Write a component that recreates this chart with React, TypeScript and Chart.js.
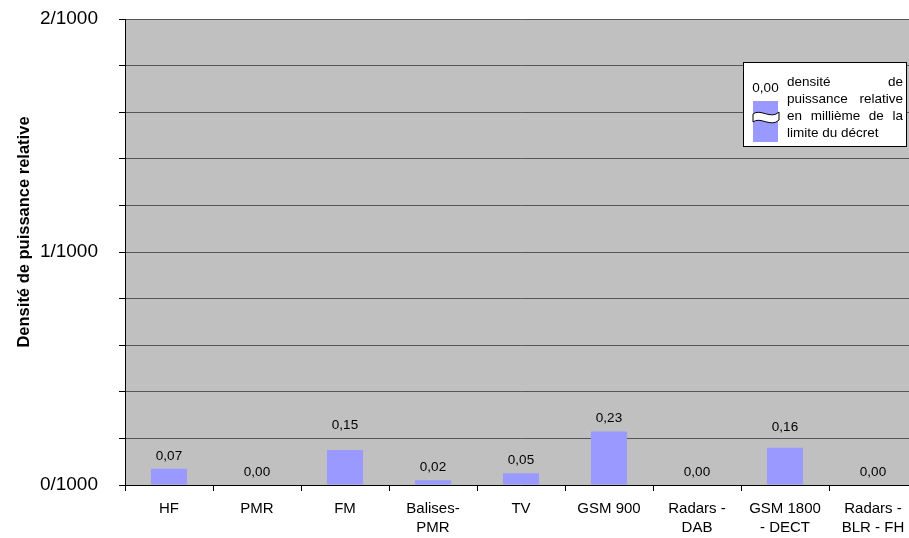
import React, { useEffect, useRef } from "react";
import { Chart, registerables } from "chart.js";

Chart.register(...registerables);

const categories: (string | string[])[] = [
  "HF",
  "PMR",
  "FM",
  ["Balises-", "PMR"],
  "TV",
  "GSM 900",
  ["Radars -", "DAB"],
  ["GSM 1800", "- DECT"],
  ["Radars -", "BLR - FH"],
];
const values: number[] = [0.07, 0.0, 0.15, 0.02, 0.05, 0.23, 0.0, 0.16, 0.0];
const yTitle = "Densité de puissance relative";
const legendValue = "0,00";
const legendLines: string[] = ["densité de", "puissance relative", "en millième de la", "limite du décret"];

const FONT = "Arial, 'Liberation Sans', sans-serif";

const fmt = (v: number) => v.toFixed(2).replace(".", ",");

// extra lift (px) of some value labels, as placed in the original
const labelLift = [0, 0, 12, 0, 0, 0, 0, 8, 0];

const decorPlugin = {
  id: "decor",
  beforeDraw(chart: any) {
    const { ctx, chartArea } = chart;
    ctx.save();
    ctx.fillStyle = "#C0C0C0";
    ctx.fillRect(chartArea.left, chartArea.top, chartArea.right - chartArea.left, chartArea.bottom - chartArea.top);
    ctx.restore();
  },
  afterDatasetsDraw(chart: any) {
    const { ctx } = chart;
    const meta = chart.getDatasetMeta(0);
    ctx.save();
    ctx.font = `13.5px ${FONT}`;
    ctx.fillStyle = "#000";
    ctx.textAlign = "center";
    ctx.textBaseline = "alphabetic";
    meta.data.forEach((bar: any, i: number) => {
      ctx.fillText(fmt(values[i]), bar.x, bar.y - 9 - (labelLift[i] || 0));
    });
    ctx.restore();
  },
  afterDraw(chart: any) {
    const { ctx } = chart;
    ctx.save();
    // Y axis title
    ctx.translate(29, 232);
    ctx.rotate(-Math.PI / 2);
    ctx.font = `bold 16.5px ${FONT}`;
    ctx.fillStyle = "#000";
    ctx.textAlign = "center";
    ctx.textBaseline = "alphabetic";
    ctx.fillText(yTitle, 0, 0);
    ctx.restore();

    // Legend box
    ctx.save();
    ctx.fillStyle = "#fff";
    ctx.fillRect(743.5, 62.5, 163, 84);
    ctx.strokeStyle = "#000";
    ctx.lineWidth = 1;
    ctx.strokeRect(743.5, 62.5, 163, 84);

    ctx.font = `13.5px ${FONT}`;
    ctx.fillStyle = "#000";
    ctx.textBaseline = "alphabetic";
    ctx.textAlign = "center";
    ctx.fillText(legendValue, 765.5, 91.5);

    // swatch
    ctx.fillStyle = "#9999FF";
    ctx.fillRect(753, 101, 25, 41);
    // break symbol
    ctx.beginPath();
    ctx.moveTo(753, 114);
    ctx.bezierCurveTo(760, 108, 771, 120, 779, 112);
    ctx.lineTo(779, 120);
    ctx.bezierCurveTo(771, 128, 760, 116, 753, 122);
    ctx.closePath();
    ctx.fillStyle = "#fff";
    ctx.fill();
    ctx.strokeStyle = "#000";
    ctx.lineWidth = 1;
    ctx.stroke();

    // justified text
    ctx.fillStyle = "#000";
    ctx.textAlign = "left";
    const left = 787;
    const right = 903;
    const baselines = [86, 103, 120, 137];
    legendLines.forEach((line, li) => {
      const words = line.split(" ");
      if (li === legendLines.length - 1 || words.length < 2) {
        ctx.fillText(line, left, baselines[li]);
        return;
      }
      const widths = words.map((w) => ctx.measureText(w).width);
      const total = widths.reduce((a, b) => a + b, 0);
      const gap = (right - left - total) / (words.length - 1);
      let x = left;
      words.forEach((w, wi) => {
        ctx.fillText(w, x, baselines[li]);
        x += widths[wi] + gap;
      });
    });
    ctx.restore();
  },
};

export default function App() {
  const ref = useRef<HTMLCanvasElement | null>(null);
  useEffect(() => {
    if (!ref.current) return;
    const chart = new Chart(ref.current, {
      type: "bar",
      data: {
        labels: categories,
        datasets: [
          {
            data: values,
            backgroundColor: "#9999FF",
            borderWidth: 0,
            barPercentage: 0.41,
            categoryPercentage: 1,
          },
        ],
      },
      options: {
        animation: false,
        responsive: false,
        devicePixelRatio: 1,
        layout: { padding: { left: 0, top: 19, right: 13, bottom: 0 } },
        plugins: { legend: { display: false }, tooltip: { enabled: false } },
        scales: {
          x: {
            afterFit: (s: any) => {
              s.height = 53;
              s.paddingLeft = 0;
              s.paddingRight = 0;
            },
            grid: {
              display: true,
              drawOnChartArea: false,
              drawTicks: true,
              tickLength: 6,
              tickColor: "#000",
              offset: true,
            },
            border: { display: true, color: "#000", width: 1 },
            ticks: {
              color: "#000",
              font: { family: FONT, size: 15, lineHeight: 1.27 },
              padding: 8,
              maxRotation: 0,
              autoSkip: false,
            },
          },
          y: {
            min: 0,
            max: 2,
            afterFit: (s: any) => {
              s.width = 125;
              s.paddingTop = 0;
              s.paddingBottom = 0;
            },
            grid: {
              color: "#555",
              lineWidth: 1,
              drawTicks: true,
              tickLength: 6,
              tickColor: "#000",
            },
            border: { display: true, color: "#000", width: 1 },
            ticks: {
              stepSize: 0.2,
              color: "#000",
              padding: 21,
              font: { family: FONT, size: 19 },
              callback: (v: any) => {
                const n = Number(v);
                return Math.abs(n - Math.round(n)) < 1e-6 ? `${Math.round(n)}/1000` : "";
              },
            },
          },
        },
      },
      plugins: [decorPlugin],
    });
    return () => chart.destroy();
  }, []);
  return (
    <div
      style={{
        position: "fixed",
        left: 0,
        top: 0,
        width: 909,
        height: 538,
        overflow: "hidden",
        background: "#fff",
      }}
    >
      <canvas ref={ref} width={930} height={538} style={{ display: "block", width: 930, height: 538 }} />
    </div>
  );
}
